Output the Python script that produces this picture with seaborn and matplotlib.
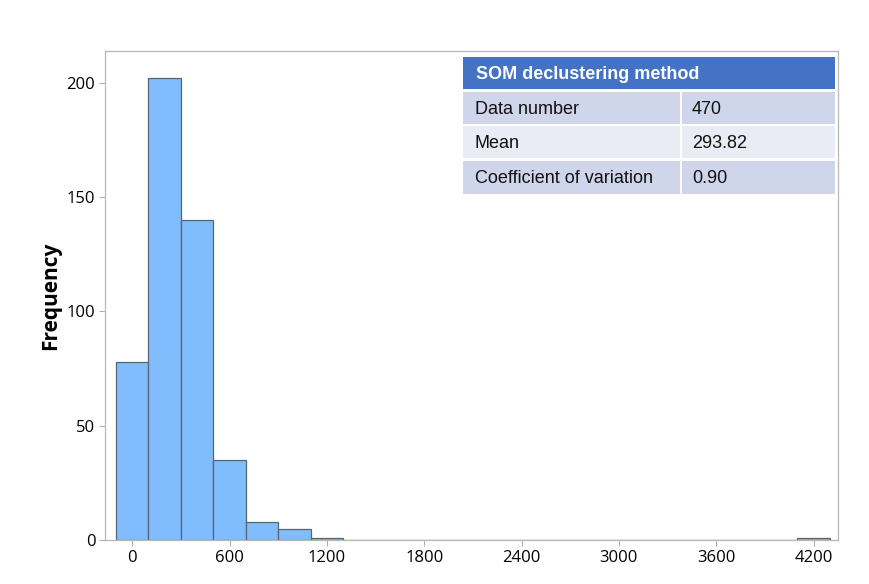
import numpy as np
import pandas as pd
import seaborn as sns
import matplotlib
matplotlib.use("Agg")
import matplotlib.pyplot as plt
from matplotlib.patches import Rectangle

# Data
bin_centers = [0, 200, 400, 600, 800, 1000, 1200, 4200]
counts = [78, 202, 140, 35, 8, 5, 1, 1]
bin_width = 200
x_ticks = [0, 600, 1200, 1800, 2400, 3000, 3600, 4200]
y_ticks = [0, 50, 100, 150, 200]
table_title = "SOM declustering method"
table_labels = ["Data number", "Mean", "Coefficient of variation"]
table_values = ["470", "293.82", "0.90"]

sns.set_theme(style="white")
plt.rcParams['font.family'] = ['Open Sans', 'DejaVu Sans']

W, H = 869, 584
fig = plt.figure(figsize=(W / 100, H / 100), dpi=100)
ax = fig.add_axes([105 / W, 1 - 540 / H, (838 - 105) / W, (540 - 51) / H])

df = pd.DataFrame({"x": bin_centers, "w": counts})
sns.histplot(data=df, x="x", weights="w", binwidth=bin_width,
             binrange=(-100, 4300), ax=ax,
             color="#80BDFF", edgecolor="#5a6470", linewidth=0.9, alpha=1.0)

ax.set_xlim(-168, 4351)
ax.set_ylim(0, 214)
ax.set_xticks(x_ticks)
ax.set_yticks(y_ticks)
ax.set_xlabel("")
ax.set_ylabel("Frequency", fontsize=15, fontweight="bold", labelpad=4, color="black")
ax.tick_params(axis="both", which="major", length=4, width=0.8, color="#b0b0b0",
               labelsize=12, labelcolor="black", bottom=True, left=True, pad=3)
for s in ax.spines.values():
    s.set_color("#b8b8b8")
    s.set_linewidth(0.9)

# Table overlay (pixel coordinates)
def px_rect(x0, y0, x1, y1, color):
    fig.patches.append(Rectangle((x0 / W, 1 - y1 / H), (x1 - x0) / W, (y1 - y0) / H,
                                 transform=fig.transFigure, facecolor=color,
                                 edgecolor="none", zorder=5))

fam = ['Liberation Sans', 'DejaVu Sans']
px_rect(463, 57, 835, 89, "#4472C4")
fig.text(476 / W, 1 - 74.5 / H, table_title, color="white", fontsize=13,
         fontweight="bold", va="center", ha="left", family=fam, zorder=6)
rows = [(92, 124), (126, 158), (161, 194)]
colors = ["#CFD5EA", "#E9EBF5", "#CFD5EA"]
for (y0, y1), c, lab, val in zip(rows, colors, table_labels, table_values):
    px_rect(463, y0, 679.5, y1, c)
    px_rect(681.5, y0, 835, y1, c)
    yc = (y0 + y1) / 2 + 1.5
    fig.text(475 / W, 1 - yc / H, lab, fontsize=13, va="center", ha="left",
             color="#111111", family=fam, zorder=6)
    fig.text(692 / W, 1 - yc / H, val, fontsize=13, va="center", ha="left",
             color="#111111", family=fam, zorder=6)

fig.savefig("out.png", dpi=100, facecolor="white")
